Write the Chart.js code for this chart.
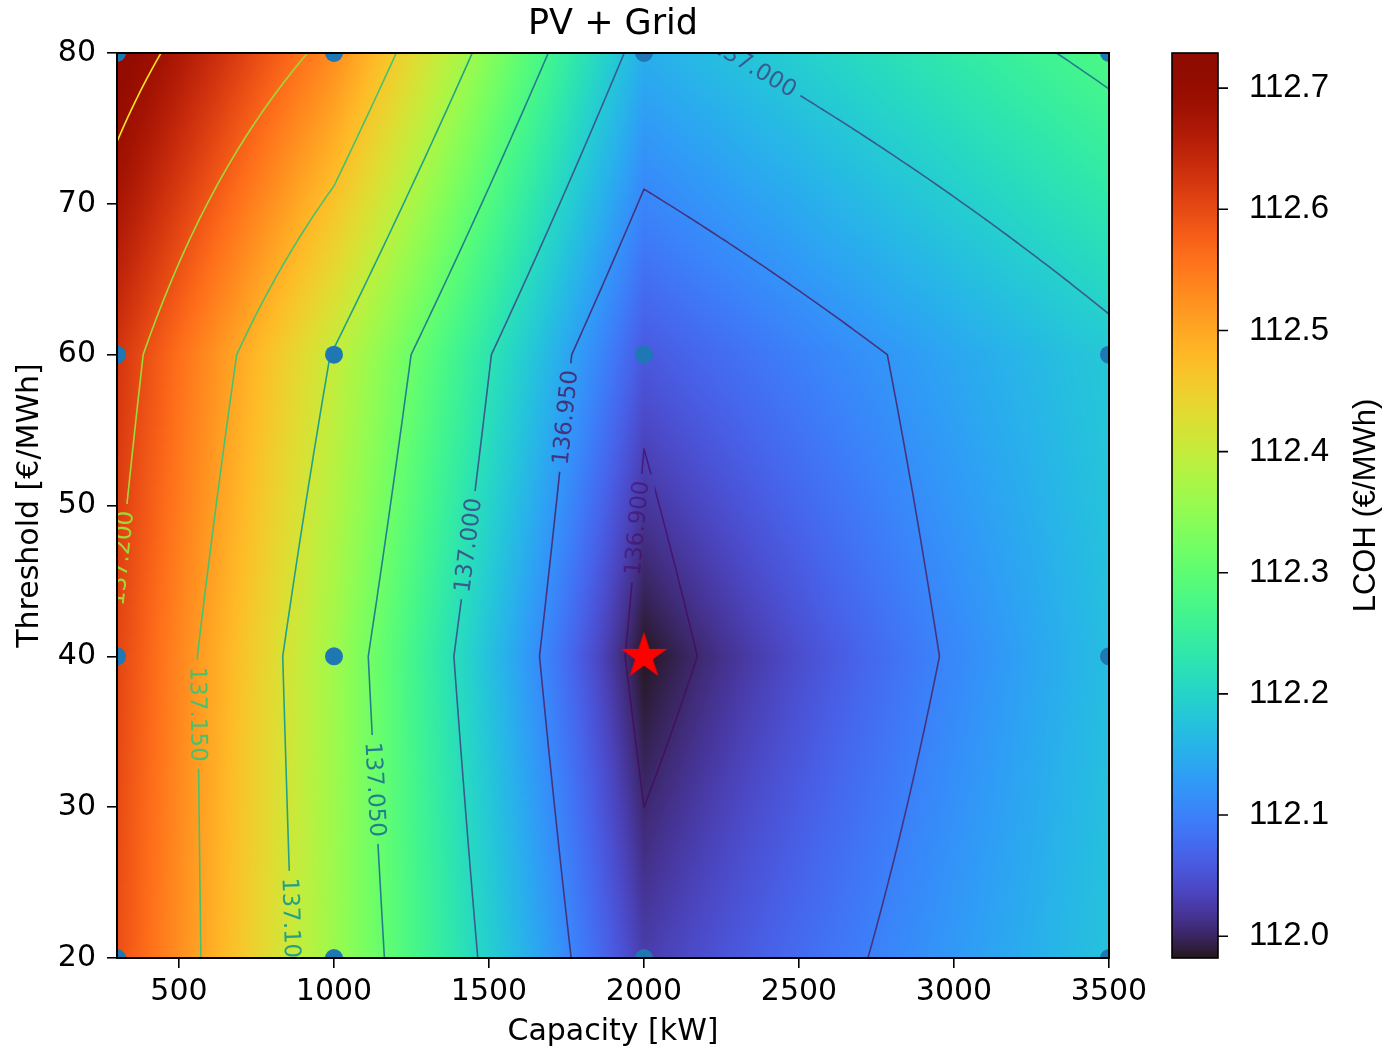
<!DOCTYPE html>
<html>
<head>
<meta charset="utf-8">
<script src="https://cdn.jsdelivr.net/npm/chart.js@4.4.1/dist/chart.umd.min.js"></script>
<style>
html,body{margin:0;padding:0;background:#fff;}
#wrap{width:1384px;height:1053px;position:relative;}
</style>
</head>
<body>
<div id="wrap"><canvas id="c" width="1384" height="1053"></canvas></div>
<script>
// ---------------- data ----------------
const capacities = [300, 1000, 2000, 3500];          // kW
const thresholds = [20, 40, 60, 80];                 // €/MWh
// LCOH (€/MWh) – colour field, one array per threshold, columns = capacities
const lcohT20 = [112.595, 112.360, 112.027, 112.176];
const lcohT40 = [112.605, 112.365, 111.982, 112.170];
const lcohT60 = [112.625, 112.400, 112.057, 112.184];
const lcohT80 = [112.722, 112.530, 112.150, 112.280];
// contoured quantity, one array per threshold, columns = capacities
const lcoeT20 = [137.196, 137.077, 136.911, 136.992];
const lcoeT40 = [137.197, 137.070, 136.889, 136.985];
const lcoeT60 = [137.214, 137.098, 136.905, 136.991];
const lcoeT80 = [137.265, 137.191, 136.987, 137.058];
const contourLevels = [136.90, 136.95, 137.00, 137.05, 137.10, 137.15, 137.20, 137.25];
const xTickValues = [500, 1000, 1500, 2000, 2500, 3000, 3500];
const yTickValues = [20, 30, 40, 50, 60, 70, 80];
const colorbarTickValues = [112.0, 112.1, 112.2, 112.3, 112.4, 112.5, 112.6, 112.7];
const colorbarMin = 111.982;
const colorbarMax = 112.729;
const bestCapacity = 2000;
const bestThreshold = 40;

// label placement (layout only): approximate spot on the given contour
const labelPlacement = [
  {level: 137.20, x: 305,  y: 46.4},
  {level: 137.15, x: 568,  y: 36.1},
  {level: 137.10, x: 874,  y: 22.2},
  {level: 137.05, x: 1142, y: 31.1},
  {level: 137.00, x: 1429, y: 47.4},
  {level: 136.95, x: 1745, y: 55.7},
  {level: 136.90, x: 1977, y: 48.6},
  {level: 137.00, x: 2348, y: 78.7}
];

const lcohGrid = [lcohT20, lcohT40, lcohT60, lcohT80];
const lcoeGrid = [lcoeT20, lcoeT40, lcoeT60, lcoeT80];

// ---------------- helpers ----------------
function locate(arr, v) {
  let i = 0;
  while (i < arr.length - 2 && v > arr[i + 1]) i++;
  let f = (v - arr[i]) / (arr[i + 1] - arr[i]);
  return [i, Math.max(0, Math.min(1, f))];
}
function field(grid, x, y) {
  const [i, fx] = locate(capacities, x);
  const [j, fy] = locate(thresholds, y);
  const a = grid[j][i], b = grid[j][i + 1], c = grid[j + 1][i], d = grid[j + 1][i + 1];
  return a * (1 - fx) * (1 - fy) + b * fx * (1 - fy) + c * (1 - fx) * fy + d * fx * fy;
}
function clamp255(v) { return Math.max(0, Math.min(255, Math.round(v * 255))); }
function turbo(t) {
  t = Math.max(0, Math.min(1, t));
  const r = 0.13572138 + t * (4.61539260 + t * (-42.66032258 + t * (132.13108234 + t * (-152.94239396 + t * 59.28637943))));
  const g = 0.09140261 + t * (2.19418839 + t * (4.84296658 + t * (-14.18503333 + t * (4.27729857 + t * 2.82956604))));
  const b = 0.10667330 + t * (12.64194608 + t * (-60.58204836 + t * (110.36276771 + t * (-89.90310912 + t * 27.34824973))));
  return [clamp255(r), clamp255(g), clamp255(b)];
}
function viridis(t) {
  const c0 = [0.2777273272234177, 0.005407344544966578, 0.3340998053353061];
  const c1 = [0.1050930431085774, 1.404613529898575, 1.384590162594685];
  const c2 = [-0.3308618287255563, 0.214847559468213, 0.09509516302823659];
  const c3 = [-4.634230498983486, -5.799100973351585, -19.33244095627987];
  const c4 = [6.228269936347081, 14.17993336680509, 56.69055260068105];
  const c5 = [4.776384997670288, -13.74514537774601, -65.35303263337234];
  const c6 = [-5.435455855934631, 4.645852612178535, 26.3124352495832];
  const out = [];
  for (let k = 0; k < 3; k++) {
    out.push(clamp255(c0[k] + t * (c1[k] + t * (c2[k] + t * (c3[k] + t * (c4[k] + t * (c5[k] + t * c6[k])))))));
  }
  return 'rgb(' + out.join(',') + ')';
}
const levelColor = contourLevels.map((L, k) => viridis(k / (contourLevels.length - 1)));

// fine nodes in data space (keeps the kinks at the measured grid lines)
function subdivide(arr, n) {
  const out = [];
  for (let i = 0; i < arr.length - 1; i++) {
    for (let s = 0; s < n; s++) out.push(arr[i] + (arr[i + 1] - arr[i]) * s / n);
  }
  out.push(arr[arr.length - 1]);
  return out;
}
function buildContours() {
  const xs = subdivide(capacities, 60), ys = subdivide(thresholds, 60);
  const vals = ys.map(y => xs.map(x => field(lcoeGrid, x, y)));
  const out = contourLevels.map(() => []);
  for (let j = 0; j < ys.length - 1; j++) {
    for (let i = 0; i < xs.length - 1; i++) {
      const p = [[xs[i], ys[j], vals[j][i]], [xs[i + 1], ys[j], vals[j][i + 1]],
                 [xs[i + 1], ys[j + 1], vals[j + 1][i + 1]], [xs[i], ys[j + 1], vals[j + 1][i]]];
      contourLevels.forEach((L, k) => {
        const pts = [];
        for (let e = 0; e < 4; e++) {
          const A = p[e], B = p[(e + 1) % 4];
          const da = A[2] - L, db = B[2] - L;
          if ((da < 0) !== (db < 0)) {
            const f = da / (da - db);
            pts.push([A[0] + f * (B[0] - A[0]), A[1] + f * (B[1] - A[1])]);
          }
        }
        if (pts.length === 2) out[k].push([pts[0], pts[1]]);
        else if (pts.length === 4) {
          const c = (p[0][2] + p[1][2] + p[2][2] + p[3][2]) / 4 - L;
          if ((c < 0) === (p[0][2] - L < 0)) { out[k].push([pts[0], pts[1]]); out[k].push([pts[2], pts[3]]); }
          else { out[k].push([pts[3], pts[0]]); out[k].push([pts[1], pts[2]]); }
        }
      });
    }
  }
  return out;
}
const contourSegments = buildContours();

// star marker image
function makeStar(R, color) {
  const cv = document.createElement('canvas');
  cv.width = Math.ceil(2 * R + 2); cv.height = Math.ceil(2 * R + 2);
  const c = cv.getContext('2d');
  const cx = cv.width / 2, cy = cv.height / 2, r = R * 0.381966;
  c.beginPath();
  for (let k = 0; k < 10; k++) {
    const rad = k % 2 === 0 ? R : r;
    const ang = -Math.PI / 2 + k * Math.PI / 5;
    const px = cx + rad * Math.cos(ang), py = cy + rad * Math.sin(ang);
    if (k === 0) c.moveTo(px, py); else c.lineTo(px, py);
  }
  c.closePath();
  c.fillStyle = color; c.fill();
  return cv;
}
const starImg = makeStar(24.5, '#ff0000');

const simulatedPoints = [];
thresholds.forEach(t => capacities.forEach(cap => simulatedPoints.push({x: cap, y: t})));

// ---------------- plugin drawing heatmap, contours, colorbar ----------------
const LABEL_FONT = '23px "DejaVu Sans"';
const overlay = {
  id: 'overlay',
  beforeDatasetsDraw(chart) {
    const {ctx, chartArea: a, scales} = chart;
    const xs = scales.x, ys = scales.y;
    // heatmap
    const w = Math.round(a.right - a.left), h = Math.round(a.bottom - a.top);
    const off = document.createElement('canvas');
    off.width = w; off.height = h;
    const oc = off.getContext('2d');
    const img = oc.createImageData(w, h);
    const xv = new Float64Array(w);
    for (let i = 0; i < w; i++) xv[i] = xs.getValueForPixel(a.left + i + 0.5);
    for (let j = 0; j < h; j++) {
      const yv = ys.getValueForPixel(a.top + j + 0.5);
      for (let i = 0; i < w; i++) {
        const v = field(lcohGrid, xv[i], yv);
        const col = turbo((v - colorbarMin) / (colorbarMax - colorbarMin));
        const idx = (j * w + i) * 4;
        img.data[idx] = col[0]; img.data[idx + 1] = col[1]; img.data[idx + 2] = col[2]; img.data[idx + 3] = 255;
      }
    }
    oc.putImageData(img, 0, 0);
    ctx.drawImage(off, a.left, a.top, a.right - a.left, a.bottom - a.top);

    // contour segments in pixels
    const segPx = contourSegments.map(list => list.map(s => [
      xs.getPixelForValue(s[0][0]), ys.getPixelForValue(s[0][1]),
      xs.getPixelForValue(s[1][0]), ys.getPixelForValue(s[1][1])]));

    // label positions
    ctx.font = LABEL_FONT;
    const labels = labelPlacement.map(lp => {
      const k = contourLevels.findIndex(L => Math.abs(L - lp.level) < 1e-9);
      const ax = xs.getPixelForValue(lp.x), ay = ys.getPixelForValue(lp.y);
      let best = null, bd = Infinity;
      segPx[k].forEach(s => {
        const mx = (s[0] + s[2]) / 2, my = (s[1] + s[3]) / 2;
        const d = (mx - ax) ** 2 + (my - ay) ** 2;
        if (d < bd) { bd = d; best = [mx, my]; }
      });
      const cx = best[0], cy = best[1];
      const e = 3;
      const f = (px, py) => field(lcoeGrid, xs.getValueForPixel(px), ys.getValueForPixel(py));
      const gx = f(cx + e, cy) - f(cx - e, cy);
      const gy = f(cx, cy + e) - f(cx, cy - e);
      let th = Math.atan2(-gx, gy);
      if (th > Math.PI / 2) th -= Math.PI;
      if (th <= -Math.PI / 2) th += Math.PI;
      const text = lp.level.toFixed(3);
      const tw = ctx.measureText(text).width;
      return {k, cx, cy, th, text, tw};
    });

    // lines, broken under the labels
    ctx.save();
    ctx.beginPath();
    ctx.rect(a.left, a.top, a.right - a.left, a.bottom - a.top);
    labels.forEach(lb => {
      const hw = lb.tw / 2 + 7, hh = 14;
      const c = Math.cos(lb.th), s = Math.sin(lb.th);
      const pts = [[-hw, -hh], [hw, -hh], [hw, hh], [-hw, hh]].map(p => [lb.cx + p[0] * c - p[1] * s, lb.cy + p[0] * s + p[1] * c]);
      ctx.moveTo(pts[0][0], pts[0][1]);
      for (let q = 1; q < 4; q++) ctx.lineTo(pts[q][0], pts[q][1]);
      ctx.closePath();
    });
    ctx.clip('evenodd');
    ctx.lineWidth = 1.6;
    ctx.lineCap = 'round';
    segPx.forEach((list, k) => {
      ctx.strokeStyle = levelColor[k];
      ctx.globalAlpha = k === 0 ? 0.6 : 1;
      ctx.beginPath();
      list.forEach(s => { ctx.moveTo(s[0], s[1]); ctx.lineTo(s[2], s[3]); });
      ctx.stroke();
    });
    ctx.restore();

    // labels
    ctx.save();
    ctx.beginPath();
    ctx.rect(a.left, a.top, a.right - a.left, a.bottom - a.top);
    ctx.clip();
    ctx.font = LABEL_FONT;
    ctx.textAlign = 'center';
    ctx.textBaseline = 'middle';
    labels.forEach(lb => {
      ctx.save();
      ctx.translate(lb.cx, lb.cy);
      ctx.rotate(lb.th);
      ctx.fillStyle = levelColor[lb.k];
      ctx.globalAlpha = lb.k === 0 ? 0.5 : 1;
      ctx.fillText(lb.text, 0, 1);
      ctx.restore();
    });
    ctx.restore();
  },
  afterDatasetsDraw(chart) {
    const {ctx, chartArea: a} = chart;
    ctx.save();
    ctx.strokeStyle = '#000';
    ctx.lineWidth = 2;
    ctx.strokeRect(a.left, a.top, a.right - a.left, a.bottom - a.top);
    ctx.restore();
  },
  afterDraw(chart) {
    const {ctx, scales} = chart;
    const cb = scales.cb;
    const x0 = 1172, x1 = 1218;
    const top = cb.top, bottom = cb.bottom;
    ctx.save();
    for (let py = Math.floor(top); py < Math.ceil(bottom); py++) {
      const v = cb.getValueForPixel(py + 0.5);
      const col = turbo((v - colorbarMin) / (colorbarMax - colorbarMin));
      ctx.fillStyle = 'rgb(' + col.join(',') + ')';
      ctx.fillRect(x0, py, x1 - x0, 1);
    }
    ctx.strokeStyle = '#000';
    ctx.lineWidth = 1.6;
    ctx.strokeRect(x0, top, x1 - x0, bottom - top);
    ctx.beginPath();
    colorbarTickValues.forEach(t => {
      const py = cb.getPixelForValue(t);
      ctx.moveTo(x1, py); ctx.lineTo(x1 + 10, py);
    });
    ctx.stroke();
    ctx.translate(1366, (top + bottom) / 2);
    ctx.rotate(-Math.PI / 2);
    ctx.font = '31px "Liberation Sans"';
    ctx.fillStyle = '#000';
    ctx.textAlign = 'center';
    ctx.textBaseline = 'middle';
    ctx.fillText('LCOH (€/MWh)', 0, 0);
    ctx.restore();
  }
};

Chart.defaults.font.family = '"DejaVu Sans"';
Chart.defaults.color = '#000';

const tickFont = {family: '"DejaVu Sans"', size: 30};
const noPad = s => { s.paddingTop = 0; s.paddingBottom = 0; s.paddingLeft = 0; s.paddingRight = 0; };
new Chart(document.getElementById('c'), {
  type: 'scatter',
  data: {
    datasets: [
      {
        label: 'Optimum',
        data: [{x: bestCapacity, y: bestThreshold}],
        pointStyle: starImg,
        pointRadius: 20,
        order: 0
      },
      {
        label: 'Simulated points',
        data: simulatedPoints,
        backgroundColor: '#1f77b4',
        borderWidth: 0,
        pointRadius: 9,
        clip: 0,
        order: 1
      }
    ]
  },
  options: {
    responsive: false,
    animation: false,
    devicePixelRatio: 1,
    layout: {padding: 0},
    plugins: {
      legend: {display: false},
      tooltip: {enabled: false},
      title: {
        display: true,
        text: 'PV + Grid',
        fullSize: false,
        color: '#000',
        font: {family: '"DejaVu Sans"', size: 35, weight: 'normal'},
        padding: {top: 4, bottom: 7}
      }
    },
    scales: {
      x: {
        type: 'linear',
        min: capacities[0],
        max: capacities[capacities.length - 1],
        afterBuildTicks: s => { s.ticks = xTickValues.map(v => ({value: v})); },
        afterFit: s => { s.height = 95; noPad(s); },
        ticks: {font: tickFont, color: '#000', padding: 6, maxRotation: 0, autoSkip: false, callback: v => String(v)},
        grid: {display: true, drawOnChartArea: false, drawTicks: true, tickLength: 10, color: '#000', lineWidth: 1.6},
        border: {display: false},
        title: {display: true, text: 'Capacity [kW]', color: '#000', font: {family: '"DejaVu Sans"', size: 30}, padding: {top: 0, bottom: 3}}
      },
      y: {
        type: 'linear',
        min: thresholds[0],
        max: thresholds[thresholds.length - 1],
        afterBuildTicks: s => { s.ticks = yTickValues.map(v => ({value: v})); },
        afterFit: s => { s.width = 117; noPad(s); },
        ticks: {font: tickFont, color: '#000', padding: 11, autoSkip: false, callback: v => String(v)},
        grid: {display: true, drawOnChartArea: false, drawTicks: true, tickLength: 10, color: '#000', lineWidth: 1.6},
        border: {display: false},
        title: {display: true, text: 'Threshold [€/MWh]', color: '#000', font: {family: '"DejaVu Sans"', size: 30}, padding: {top: 12, bottom: 0}}
      },
      cb: {
        type: 'linear',
        position: 'right',
        min: colorbarMin,
        max: colorbarMax,
        afterBuildTicks: s => { s.ticks = colorbarTickValues.map(v => ({value: v})); },
        afterFit: s => { s.width = 275; noPad(s); },
        ticks: {font: {family: '"Liberation Sans"', size: 33}, color: '#000', padding: 132, autoSkip: false,
                callback: v => Number(v).toFixed(1)},
        grid: {display: false},
        border: {display: false}
      }
    }
  },
  plugins: [overlay]
});
</script>
</body>
</html>
